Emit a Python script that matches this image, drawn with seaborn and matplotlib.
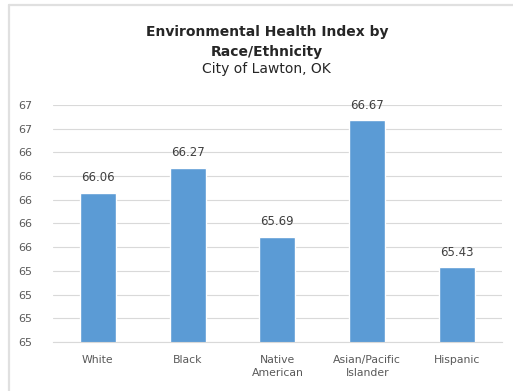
import matplotlib
matplotlib.use("Agg")
import matplotlib.pyplot as plt
import seaborn as sns
import pandas as pd
from matplotlib.ticker import FormatStrFormatter
from matplotlib.lines import Line2D

categories = ["White", "Black", "Native\nAmerican", "Asian/Pacific\nIslander", "Hispanic"]
values = [66.06, 66.27, 65.69, 66.67, 65.43]
y_ticks = [64.8, 65.0, 65.2, 65.4, 65.6, 65.8, 66.0, 66.2, 66.4, 66.6, 66.8]

df = pd.DataFrame({"group": categories, "index": values})

sns.set_theme(style="white")
plt.rcParams["font.family"] = ["DejaVu Sans"]

fig = plt.figure(figsize=(5.13, 3.91), dpi=100)
ax = fig.add_axes([0.103, 0.1253, 0.8756, 0.6062])

sns.barplot(data=df, x="group", y="index", color="#5B9BD5", width=0.4,
            saturation=1, ax=ax)

ax.set_ylim(y_ticks[0], y_ticks[-1])
ax.set_yticks(y_ticks)
ax.yaxis.set_major_formatter(FormatStrFormatter("%.0f"))
ax.grid(axis="y", color="#D9D9D9", linewidth=0.8)
ax.set_axisbelow(True)
for side in ["top", "right", "left"]:
    ax.spines[side].set_visible(False)
ax.spines["bottom"].set_color("#D9D9D9")
ax.spines["bottom"].set_linewidth(0.8)
ax.set_xlabel("")
ax.set_ylabel("")
ax.tick_params(axis="x", length=0, labelsize=7.8, colors="#595959", pad=9)
ax.tick_params(axis="y", length=0, labelsize=8, colors="#595959", pad=15)
for lbl in ax.get_xticklabels():
    lbl.set_linespacing(1.45)

ax.bar_label(ax.containers[0], labels=[f"{v:.2f}" for v in values],
             padding=6, fontsize=8.5, color="#404040")

fig.text(0.52, 0.918, "Environmental Health Index by", ha="center", va="center",
         fontsize=10, fontweight="bold", color="#262626")
fig.text(0.52, 0.868, "Race/Ethnicity", ha="center", va="center",
         fontsize=10, fontweight="bold", color="#262626")
fig.text(0.52, 0.824, "City of Lawton, OK", ha="center", va="center",
         fontsize=10, color="#262626")

# light frame along the top and left edges
fig.add_artist(Line2D([9 / 513, 1.0], [1 - 5 / 391, 1 - 5 / 391],
                      transform=fig.transFigure, color="#E0E0E0", linewidth=1.6))
fig.add_artist(Line2D([9 / 513, 9 / 513], [0.0, 1 - 5 / 391],
                      transform=fig.transFigure, color="#E0E0E0", linewidth=1.6))

fig.savefig("out.png", dpi=100)
